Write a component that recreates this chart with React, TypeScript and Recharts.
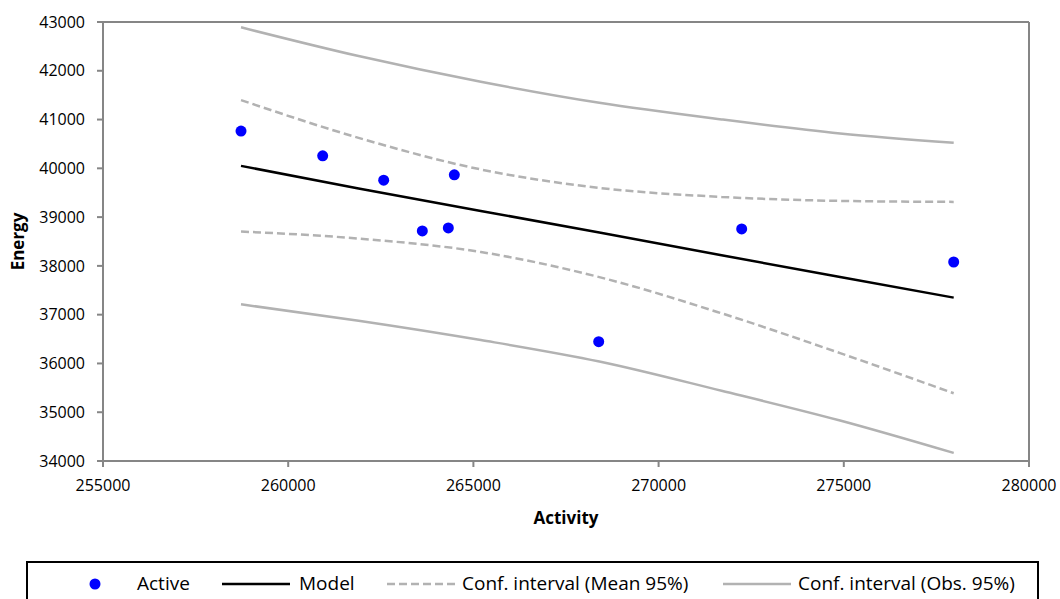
import { ScatterChart, Scatter, XAxis, YAxis, ReferenceLine } from 'recharts';

// observed points
const activity = [258726, 260931, 262578, 263621, 264323, 264485, 268383, 272243, 277967];
const energy = [40763, 40256, 39757, 38717, 38778, 39866, 36446, 38757, 38080];

// regression line and bands, read at these activity values
const curveX = [258726, 261900, 265200, 268400, 271700, 274900, 277967];
const model = [40050, 39587, 39127, 38684, 38218, 37772, 37349];
const meanUpper = [41399, 40625, 39977, 39599, 39414, 39332, 39312];
const meanLower = [38705, 38560, 38285, 37770, 37028, 36212, 35388];
const obsUpper = [42891, 42302, 41775, 41344, 41003, 40716, 40523];
const obsLower = [37212, 36876, 36480, 36040, 35440, 34830, 34165];

const xTicks = [255000, 260000, 265000, 270000, 275000, 280000];
const yTicks = [34000, 35000, 36000, 37000, 38000, 39000, 40000, 41000, 42000, 43000];

const FONT = '"Open Sans", sans-serif';
const AXIS = '#868686';
const BAND = '#b2b2b2';

const toPts = (xs: number[], ys: number[]) => xs.map((x, i) => ({ x, y: ys[i] }));

const points = toPts(activity, energy);
const modelPts = toPts(curveX, model);
const meanUpPts = toPts(curveX, meanUpper);
const meanLoPts = toPts(curveX, meanLower);
const obsUpPts = toPts(curveX, obsUpper);
const obsLoPts = toPts(curveX, obsLower);

const noShape = () => <g />;
const dot = (p: any) => <circle cx={p.cx} cy={p.cy} r={5.5} fill="#0000ff" />;

const tickStyle = { fontFamily: FONT, fontSize: 16, fill: '#000' };

function Legend() {
  const cy = 584;
  const textY = 590;
  const txt = { fontFamily: FONT, fontSize: 19, fill: '#000' };
  return (
    <svg width={1060} height={599} style={{ position: 'absolute', left: 0, top: 0, pointerEvents: 'none' }}>
      <rect x={27} y={562} width={1011} height={60} fill="none" stroke="#000" strokeWidth={2} />
      <circle cx={95} cy={cy} r={5.5} fill="#0000ff" />
      <text x={137} y={textY} {...txt}>Active</text>
      <line x1={222} x2={290} y1={cy} y2={cy} stroke="#000" strokeWidth={2.5} />
      <text x={299} y={textY} {...txt}>Model</text>
      <line x1={387} x2={455} y1={cy} y2={cy} stroke={BAND} strokeWidth={2.5} strokeDasharray="8 4" />
      <text x={462} y={textY} {...txt}>Conf. interval (Mean 95%)</text>
      <line x1={723} x2={791} y1={cy} y2={cy} stroke={BAND} strokeWidth={2.5} />
      <text x={798} y={textY} {...txt}>Conf. interval (Obs. 95%)</text>
    </svg>
  );
}

export default function App() {
  return (
    <div style={{ position: 'absolute', left: 0, top: 0, width: 1060, height: 599, background: '#fff', overflow: 'hidden' }}>
      <ScatterChart width={1060} height={599} margin={{ top: 22, right: 31, left: 0, bottom: 68 }}>
        <XAxis
          type="number"
          dataKey="x"
          domain={[255000, 280000]}
          ticks={xTicks}
          allowDataOverflow
          stroke={AXIS}
          strokeWidth={2}
          tickSize={6}
          tickMargin={13}
          tick={tickStyle}
          height={70}
          label={{
            content: ({ viewBox }: any) => (
              <text
                x={viewBox.x + viewBox.width / 2}
                y={viewBox.y + 63}
                textAnchor="middle"
                fontFamily={FONT}
                fontSize={17}
                fontWeight="bold"
              >
                Activity
              </text>
            ),
          }}
        />
        <YAxis
          type="number"
          dataKey="y"
          domain={[34000, 43000]}
          ticks={yTicks}
          allowDataOverflow
          stroke={AXIS}
          strokeWidth={2}
          tickSize={6}
          tickMargin={12}
          tick={tickStyle}
          width={103}
          label={{
            content: ({ viewBox }: any) => {
              const x = viewBox.x + 24;
              const y = viewBox.y + viewBox.height / 2;
              return (
                <text
                  x={x}
                  y={y}
                  transform={`rotate(-90 ${x} ${y})`}
                  textAnchor="middle"
                  fontFamily={FONT}
                  fontSize={17}
                  fontWeight="bold"
                >
                  Energy
                </text>
              );
            },
          }}
        />
        <ReferenceLine y={43000} stroke={AXIS} strokeWidth={2} />
        <ReferenceLine x={280000} stroke={AXIS} strokeWidth={2} />
        <Scatter data={obsUpPts} shape={noShape} line={{ stroke: BAND, strokeWidth: 2.5 }} lineJointType="monotoneX" isAnimationActive={false} />
        <Scatter data={obsLoPts} shape={noShape} line={{ stroke: BAND, strokeWidth: 2.5 }} lineJointType="monotoneX" isAnimationActive={false} />
        <Scatter data={meanUpPts} shape={noShape} line={{ stroke: BAND, strokeWidth: 2.5, strokeDasharray: '8 4' }} lineJointType="monotoneX" isAnimationActive={false} />
        <Scatter data={meanLoPts} shape={noShape} line={{ stroke: BAND, strokeWidth: 2.5, strokeDasharray: '8 4' }} lineJointType="monotoneX" isAnimationActive={false} />
        <Scatter data={modelPts} shape={noShape} line={{ stroke: '#000', strokeWidth: 2.5 }} isAnimationActive={false} />
        <Scatter data={points} shape={dot} isAnimationActive={false} />
      </ScatterChart>
      <Legend />
    </div>
  );
}
